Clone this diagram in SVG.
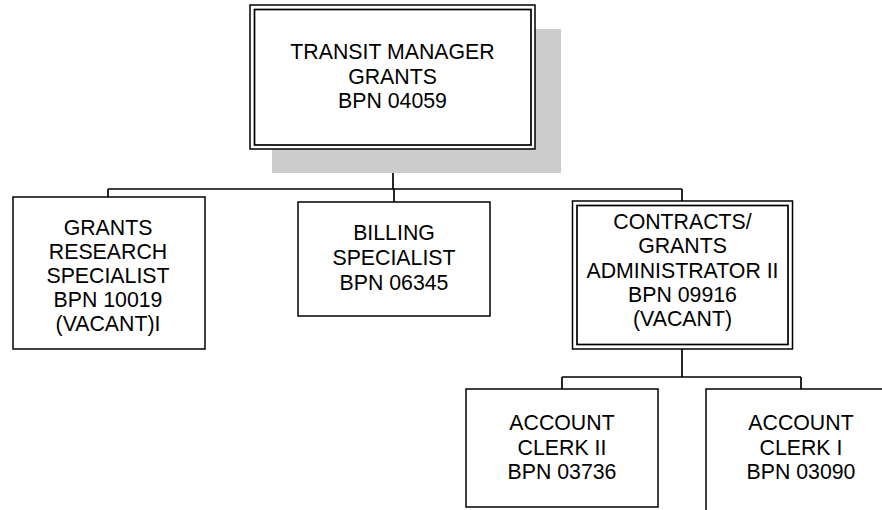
<svg xmlns="http://www.w3.org/2000/svg" width="882" height="510" viewBox="0 0 882 510">
<style>
.box{fill:#fff;stroke:#000;stroke-width:1.5}
.in{fill:none;stroke:#000;stroke-width:1.7}
.t{font-family:"Liberation Sans",Arial,sans-serif;font-size:21.3px;fill:#000;text-anchor:middle}
.c{fill:none;stroke:#000;stroke-width:1.7}
</style>
<rect width="882" height="510" fill="#fff"/>
<g id="connectors">
<path class="c" d="M393 149V189M108 189H682M108 189V197M394 189V202M682 189V201"/>
<path class="c" d="M682 349V377M562 377H801M562 377V389M801 377V389"/>
</g>
<g id="transit-manager">
<rect x="272" y="29" width="289" height="144" fill="#cccccc"/>
<rect class="box" x="250" y="5" width="285" height="144"/>
<rect class="in" x="254.5" y="9.5" width="276.5" height="135.5"/>
<text class="t" x="392.5" y="59">TRANSIT MANAGER</text>
<text class="t" x="392.5" y="83.5">GRANTS</text>
<text class="t" x="392.5" y="108">BPN 04059</text>
</g>
<g id="grants-research">
<rect class="box" x="13" y="197" width="192" height="152"/>
<text class="t" x="108" y="235">GRANTS</text>
<text class="t" x="108" y="259">RESEARCH</text>
<text class="t" x="108" y="283">SPECIALIST</text>
<text class="t" x="108" y="307">BPN 10019</text>
<text class="t" x="108" y="331">(VACANT)I</text>
</g>
<g id="billing">
<rect class="box" x="298" y="202" width="192" height="114"/>
<text class="t" x="394" y="240">BILLING</text>
<text class="t" x="394" y="265">SPECIALIST</text>
<text class="t" x="394" y="290">BPN 06345</text>
</g>
<g id="contracts">
<rect class="box" x="572.5" y="201" width="220" height="148"/>
<rect class="in" x="577" y="205.5" width="211" height="139"/>
<text class="t" x="682.5" y="229">CONTRACTS/</text>
<text class="t" x="682.5" y="253">GRANTS</text>
<text class="t" x="682.5" y="278">ADMINISTRATOR II</text>
<text class="t" x="682.5" y="302">BPN 09916</text>
<text class="t" x="682.5" y="326">(VACANT)</text>
</g>
<g id="account-clerk-ii">
<rect class="box" x="466" y="389" width="192" height="118"/>
<text class="t" x="562" y="430">ACCOUNT</text>
<text class="t" x="562" y="455">CLERK II</text>
<text class="t" x="562" y="479">BPN 03736</text>
</g>
<g id="account-clerk-i">
<rect class="box" x="706" y="389" width="192" height="130"/>
<text class="t" x="801" y="430">ACCOUNT</text>
<text class="t" x="801" y="455">CLERK I</text>
<text class="t" x="801" y="479">BPN 03090</text>
</g>
</svg>
